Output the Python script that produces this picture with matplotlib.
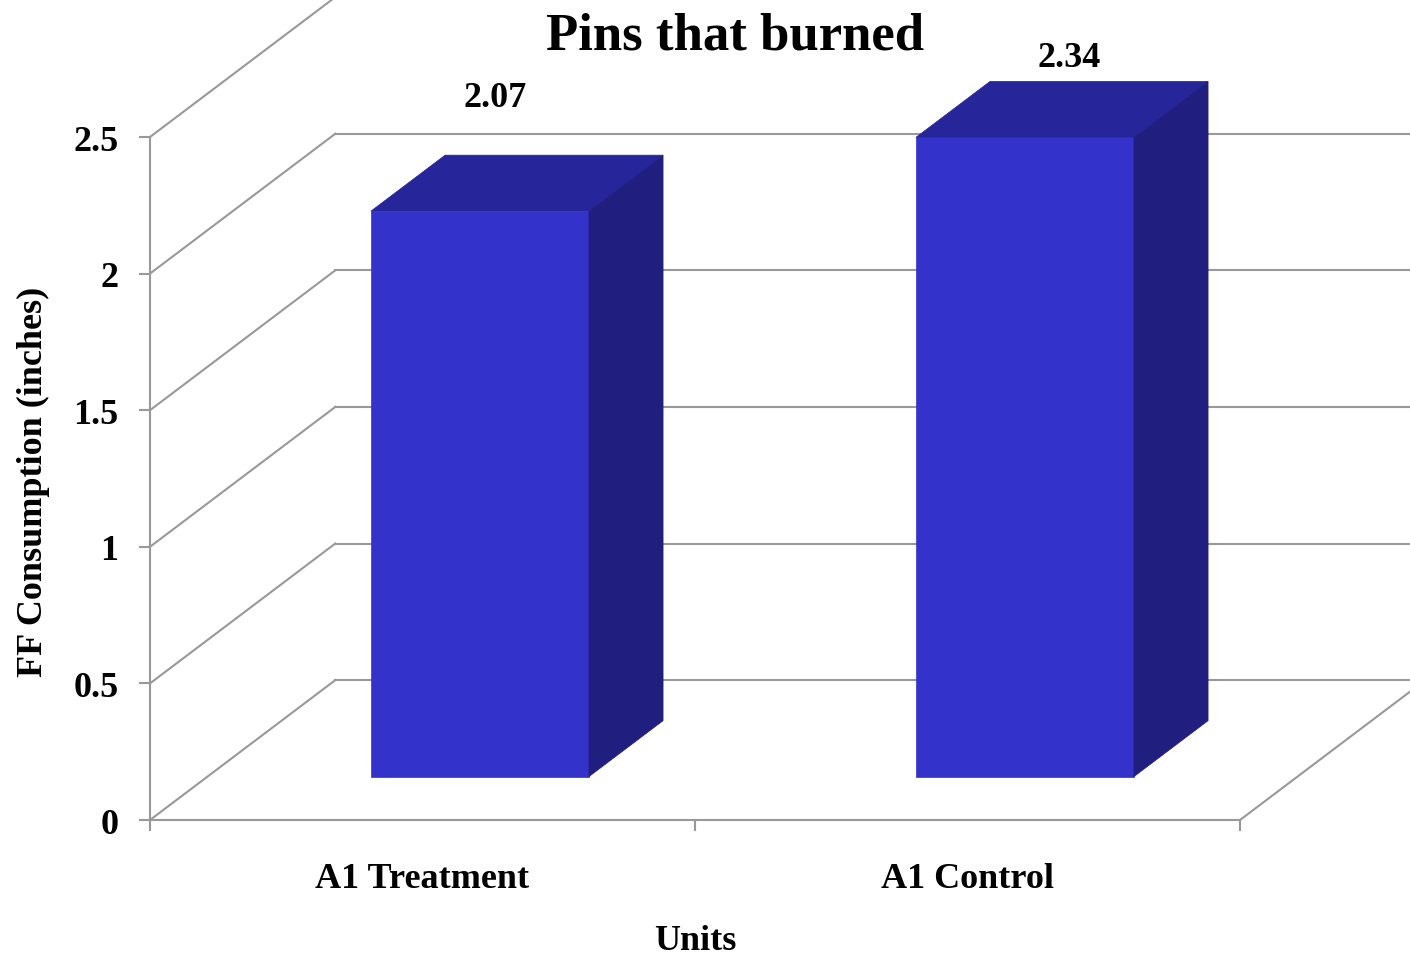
import matplotlib

matplotlib.use("Agg")
import matplotlib.pyplot as plt
from matplotlib.patches import Polygon

# data
categories = ["A1 Treatment", "A1 Control"]
values = [2.07, 2.34]
yticks = [0, 0.5, 1, 1.5, 2, 2.5]
ytick_labels = ["0", "0.5", "1", "1.5", "2", "2.5"]

# oblique 3-D look: depth offset of the back wall in data units
DX, DY = 0.34, 0.512
BAR_W = 0.4
D_FRONT, D_BACK = 0.31, 0.71
# where each value label sits relative to its bar (category units, value units)
label_nudge = [(0.133, 0.54), (0.186, 0.416)]

FRONT = "#3333cc"
TOP = "#26269a"
SIDE = "#201f80"
GRID = "#999999"

plt.rcParams["font.family"] = ["Liberation Serif", "DejaVu Serif"]
plt.rcParams["font.weight"] = "bold"

fig = plt.figure(figsize=(14.1, 9.6), dpi=100)
ax = fig.add_axes([0, 0, 1, 1])
ax.set_xlim(-150 / 545, 1260 / 545)
ax.set_ylim(-140 / 273.2, 820 / 273.2)
ax.axis("off")

ncat = len(categories)

# back wall gridlines + side wall diagonals
for v in yticks:
    ax.plot([DX, ncat + DX], [v + DY, v + DY], color=GRID, lw=1.5, zorder=1)
    ax.plot([0, DX], [v, v + DY], color=GRID, lw=1.5, zorder=1)
    ax.plot([-0.018, 0], [v, v], color=GRID, lw=1.5, zorder=1)
    ax.text(-0.058, v - 0.05, ytick_labels[yticks.index(v)], ha="right",
            va="baseline", fontsize=26, fontweight="bold")

# front axis and floor
ax.plot([0, 0], [0, yticks[-1]], color=GRID, lw=1.5, zorder=1)
ax.plot([0, ncat], [0, 0], color=GRID, lw=1.5, zorder=1)
ax.plot([ncat, ncat + DX], [0, DY], color=GRID, lw=1.5, zorder=1)
for i in range(ncat + 1):
    ax.plot([i, i], [0, -0.037], color=GRID, lw=1.5, zorder=1)

# bars as front / top / side faces
for i, (cat, v) in enumerate(zip(categories, values)):
    c = i + 0.5
    x0 = c - BAR_W / 2 + D_FRONT * DX
    x1 = c + BAR_W / 2 + D_FRONT * DX
    y0 = D_FRONT * DY
    ddx = (D_BACK - D_FRONT) * DX
    ddy = (D_BACK - D_FRONT) * DY
    front = [(x0, y0), (x1, y0), (x1, y0 + v), (x0, y0 + v)]
    top = [(x0, y0 + v), (x1, y0 + v), (x1 + ddx, y0 + v + ddy), (x0 + ddx, y0 + v + ddy)]
    side = [(x1, y0), (x1 + ddx, y0 + ddy), (x1 + ddx, y0 + v + ddy), (x1, y0 + v)]
    for pts, col in ((front, FRONT), (top, TOP), (side, SIDE)):
        ax.add_patch(Polygon(pts, closed=True, fc=col, ec=col, lw=0.5, zorder=3))
    nx, ny = label_nudge[i]
    ax.text(c + nx, v + ny, f"{v:.2f}", ha="center", va="baseline",
            fontsize=26, fontweight="bold")
    ax.text(c, -0.249, cat, ha="center", va="baseline", fontsize=26,
            fontweight="bold")

ax.text(ncat / 2, -0.476, "Units", ha="center", va="baseline", fontsize=26,
        fontweight="bold")
fig.text(33 / 1410, 1 - 482 / 960, "FF Consumption (inches)", rotation=90,
         ha="center", va="center", fontsize=26, fontweight="bold")
fig.text(735 / 1410, 1 - 50 / 960, "Pins that burned", ha="center",
         va="baseline", fontsize=38, fontweight="bold")

fig.savefig("out.png", dpi=100)
